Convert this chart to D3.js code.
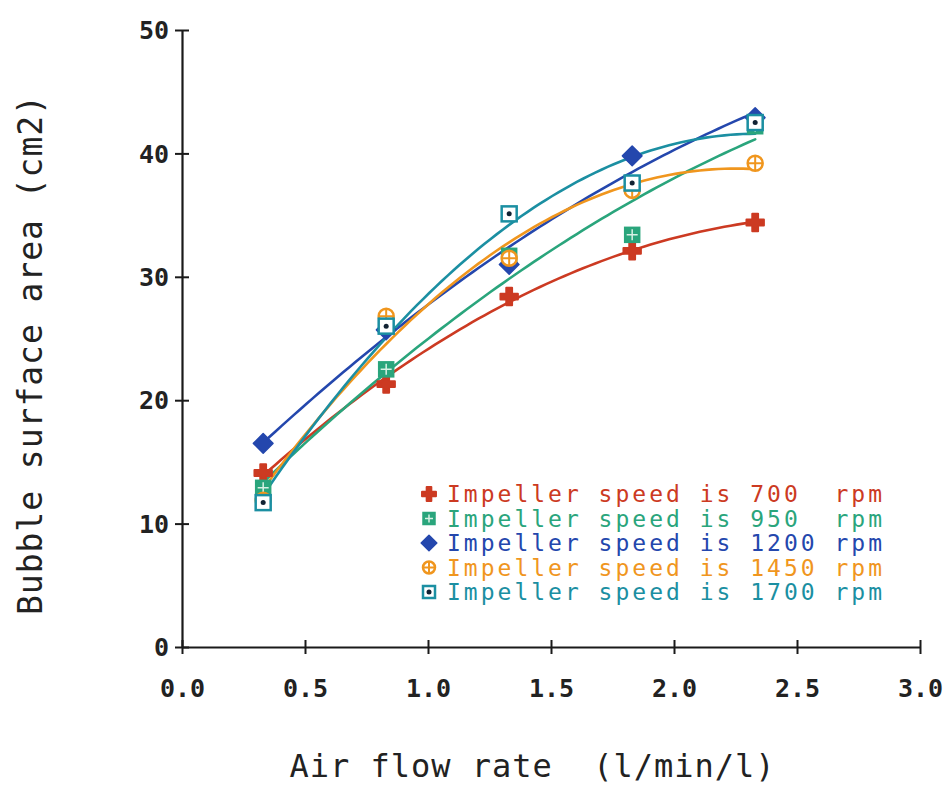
<!DOCTYPE html>
<html>
<head>
<meta charset="utf-8">
<script src="https://cdn.jsdelivr.net/npm/d3@7"></script>
<style>
  html, body { margin: 0; padding: 0; background: #fff; }
  svg { display: block; }
  text { font-family: "DejaVu Sans Mono", "Liberation Mono", monospace; }
</style>
</head>
<body>
<svg id="chart" width="950" height="786"></svg>
<script>
// ---- data ----
const airFlow = [0.33, 0.83, 1.33, 1.83, 2.33];
const speed700  = [14.1, 21.3, 28.4, 32.1, 34.4];
const speed950  = [12.9, 22.5, 31.7, 33.4, 42.2];
const speed1200 = [16.5, 25.7, 31.0, 39.8, 42.9];
const speed1450 = [11.9, 26.8, 31.5, 37.0, 39.2];
const speed1700 = [11.7, 26.0, 35.1, 37.6, 42.5];
const seriesLabels = [
  "Impeller speed is 700  rpm",
  "Impeller speed is 950  rpm",
  "Impeller speed is 1200 rpm",
  "Impeller speed is 1450 rpm",
  "Impeller speed is 1700 rpm"
];
const xTicks = [0, 0.5, 1.0, 1.5, 2.0, 2.5, 3.0];
const yTicks = [0, 10, 20, 30, 40, 50];
const xTitle = "Air flow rate  (l/min/l)";
const yTitle = "Bubble surface area (cm2)";

const colors = ["#cc3a22", "#2aa57c", "#2447ad", "#f0961e", "#1b8fa2"];
const markerTypes = ["cross", "gridSquare", "diamond", "circlePlus", "dotSquare"];

const allSeries = [speed700, speed950, speed1200, speed1450, speed1700].map((vals, i) => ({
  label: seriesLabels[i], color: colors[i], marker: markerTypes[i],
  points: airFlow.map((x, j) => ({ x, y: vals[j] }))
}));

// ---- layout ----
const svg = d3.select("#chart");
const x = d3.scaleLinear().domain([0, 3]).range([182, 920]);
const y = d3.scaleLinear().domain([0, 50]).range([647, 30]);

// quadratic least-squares fit from the data
function quadFit(pts) {
  let s = [0,0,0,0,0], t = [0,0,0];
  pts.forEach(p => {
    let xp = 1;
    for (let k = 0; k < 5; k++) { s[k] += xp; xp *= p.x; }
    t[0] += p.y; t[1] += p.y * p.x; t[2] += p.y * p.x * p.x;
  });
  const A = [[s[0], s[1], s[2], t[0]], [s[1], s[2], s[3], t[1]], [s[2], s[3], s[4], t[2]]];
  for (let i = 0; i < 3; i++) {
    for (let r = i + 1; r < 3; r++) {
      const f = A[r][i] / A[i][i];
      for (let c = i; c < 4; c++) A[r][c] -= f * A[i][c];
    }
  }
  const coef = [0,0,0];
  for (let i = 2; i >= 0; i--) {
    let v = A[i][3];
    for (let c = i + 1; c < 3; c++) v -= A[i][c] * coef[c];
    coef[i] = v / A[i][i];
  }
  return xv => coef[0] + coef[1] * xv + coef[2] * xv * xv;
}

// ---- axes ----
const axisColor = "#1a1a1a";
const xAxis = svg.append("g").attr("transform", `translate(0,${y(0)})`)
  .call(d3.axisBottom(x).tickValues(xTicks).tickSize(0).tickFormat(d3.format(".1f")));
xAxis.select(".domain").attr("stroke", axisColor).attr("stroke-width", 2.2);
xAxis.selectAll(".tick line").attr("y1", -7).attr("y2", 7).attr("stroke", axisColor).attr("stroke-width", 2);
xAxis.selectAll(".tick text").attr("y", 41).attr("dy", "0.35em")
  .attr("font-size", 25).attr("font-weight", "bold").attr("fill", "#222");

const yAxis = svg.append("g").attr("transform", `translate(${x(0)},0)`)
  .call(d3.axisLeft(y).tickValues(yTicks).tickSize(0).tickFormat(d3.format("d")));
yAxis.select(".domain").attr("stroke", axisColor).attr("stroke-width", 2.2);
yAxis.selectAll(".tick line").attr("x1", -7).attr("x2", 7).attr("stroke", axisColor).attr("stroke-width", 2);
yAxis.selectAll(".tick text").attr("x", -13).attr("dy", "0.35em")
  .attr("font-size", 25).attr("font-weight", "bold").attr("fill", "#222");

svg.append("text").attr("x", 532).attr("y", 766).attr("text-anchor", "middle")
  .attr("dominant-baseline", "central").attr("font-size", 32).attr("fill", "#222")
  .attr("textLength", 485).attr("lengthAdjust", "spacing")
  .attr("xml:space", "preserve").style("white-space", "pre").text(xTitle);

svg.append("text").attr("transform", "translate(30,355) rotate(-90)")
  .attr("text-anchor", "middle").attr("dominant-baseline", "central")
  .attr("font-size", 33).attr("fill", "#222")
  .attr("textLength", 520).attr("lengthAdjust", "spacing").text(yTitle);

// ---- markers ----
function drawMarker(g, type, color, cx, cy, s) {
  const h = s / 2;
  if (type === "cross") {
    g.append("path").attr("d", d3.symbol(d3.symbolCross, s * s * 0.75)())
      .attr("transform", `translate(${cx},${cy})`).attr("fill", color)
      .attr("stroke", color).attr("stroke-width", 2).attr("stroke-linejoin", "round");
    g.append("path").attr("d", d3.symbol(d3.symbolSquare, s * s * 0.3)())
      .attr("transform", `translate(${cx},${cy}) rotate(45)`).attr("fill", color);
  } else if (type === "gridSquare") {
    g.append("rect").attr("x", cx - h).attr("y", cy - h).attr("width", s).attr("height", s)
      .attr("fill", color).attr("stroke", color).attr("stroke-width", 1.5);
    g.append("path").attr("d", `M${cx},${cy - h + 2}V${cy + h - 2}M${cx - h + 2},${cy}H${cx + h - 2}`)
      .attr("stroke", "#d8f0e4").attr("stroke-width", 1.5);
  } else if (type === "diamond") {
    g.append("path").attr("d", d3.symbol(d3.symbolSquare, s * s * 0.85)())
      .attr("transform", `translate(${cx},${cy}) rotate(45)`).attr("fill", color)
      .attr("stroke", color).attr("stroke-width", 1.5).attr("stroke-linejoin", "round");
  } else if (type === "circlePlus") {
    g.append("circle").attr("cx", cx).attr("cy", cy).attr("r", h)
      .attr("fill", "#fff").attr("stroke", color).attr("stroke-width", 2.5);
    g.append("path").attr("d", `M${cx},${cy - h}V${cy + h}M${cx - h},${cy}H${cx + h}`)
      .attr("stroke", color).attr("stroke-width", 2);
  } else if (type === "dotSquare") {
    g.append("rect").attr("x", cx - h).attr("y", cy - h).attr("width", s).attr("height", s)
      .attr("fill", "#fff").attr("stroke", color).attr("stroke-width", 2.5);
    g.append("circle").attr("cx", cx).attr("cy", cy).attr("r", 2.5).attr("fill", "#123");
  }
}

// ---- fitted lines ----
const line = d3.line().x(d => x(d.x)).y(d => y(d.y)).curve(d3.curveLinear);
const lineG = svg.append("g");
allSeries.forEach(s => {
  const f = quadFit(s.points);
  const x0 = d3.min(s.points, p => p.x), x1 = d3.max(s.points, p => p.x);
  const samples = d3.range(0, 81).map(k => {
    const xv = x0 + (x1 - x0) * k / 80;
    return { x: xv, y: f(xv) };
  });
  lineG.append("path").datum(samples).attr("d", line)
    .attr("fill", "none").attr("stroke", s.color).attr("stroke-width", 2.6)
    .attr("stroke-linejoin", "round").attr("stroke-linecap", "round");
});

const markG = svg.append("g");
allSeries.forEach(s => {
  s.points.forEach(p => drawMarker(markG, s.marker, s.color, x(p.x), y(p.y), 15));
});

// ---- legend ----
const legendG = svg.append("g");
allSeries.forEach((s, i) => {
  const cy = 494 + i * 24.5;
  drawMarker(legendG, s.marker, s.color, 429, cy, 12);
  legendG.append("text").attr("x", 447).attr("y", cy).attr("dominant-baseline", "central")
    .attr("font-size", 23).attr("fill", s.color)
    .attr("textLength", 435).attr("lengthAdjust", "spacing")
    .attr("xml:space", "preserve").style("white-space", "pre").text(s.label);
});
</script>
</body>
</html>
